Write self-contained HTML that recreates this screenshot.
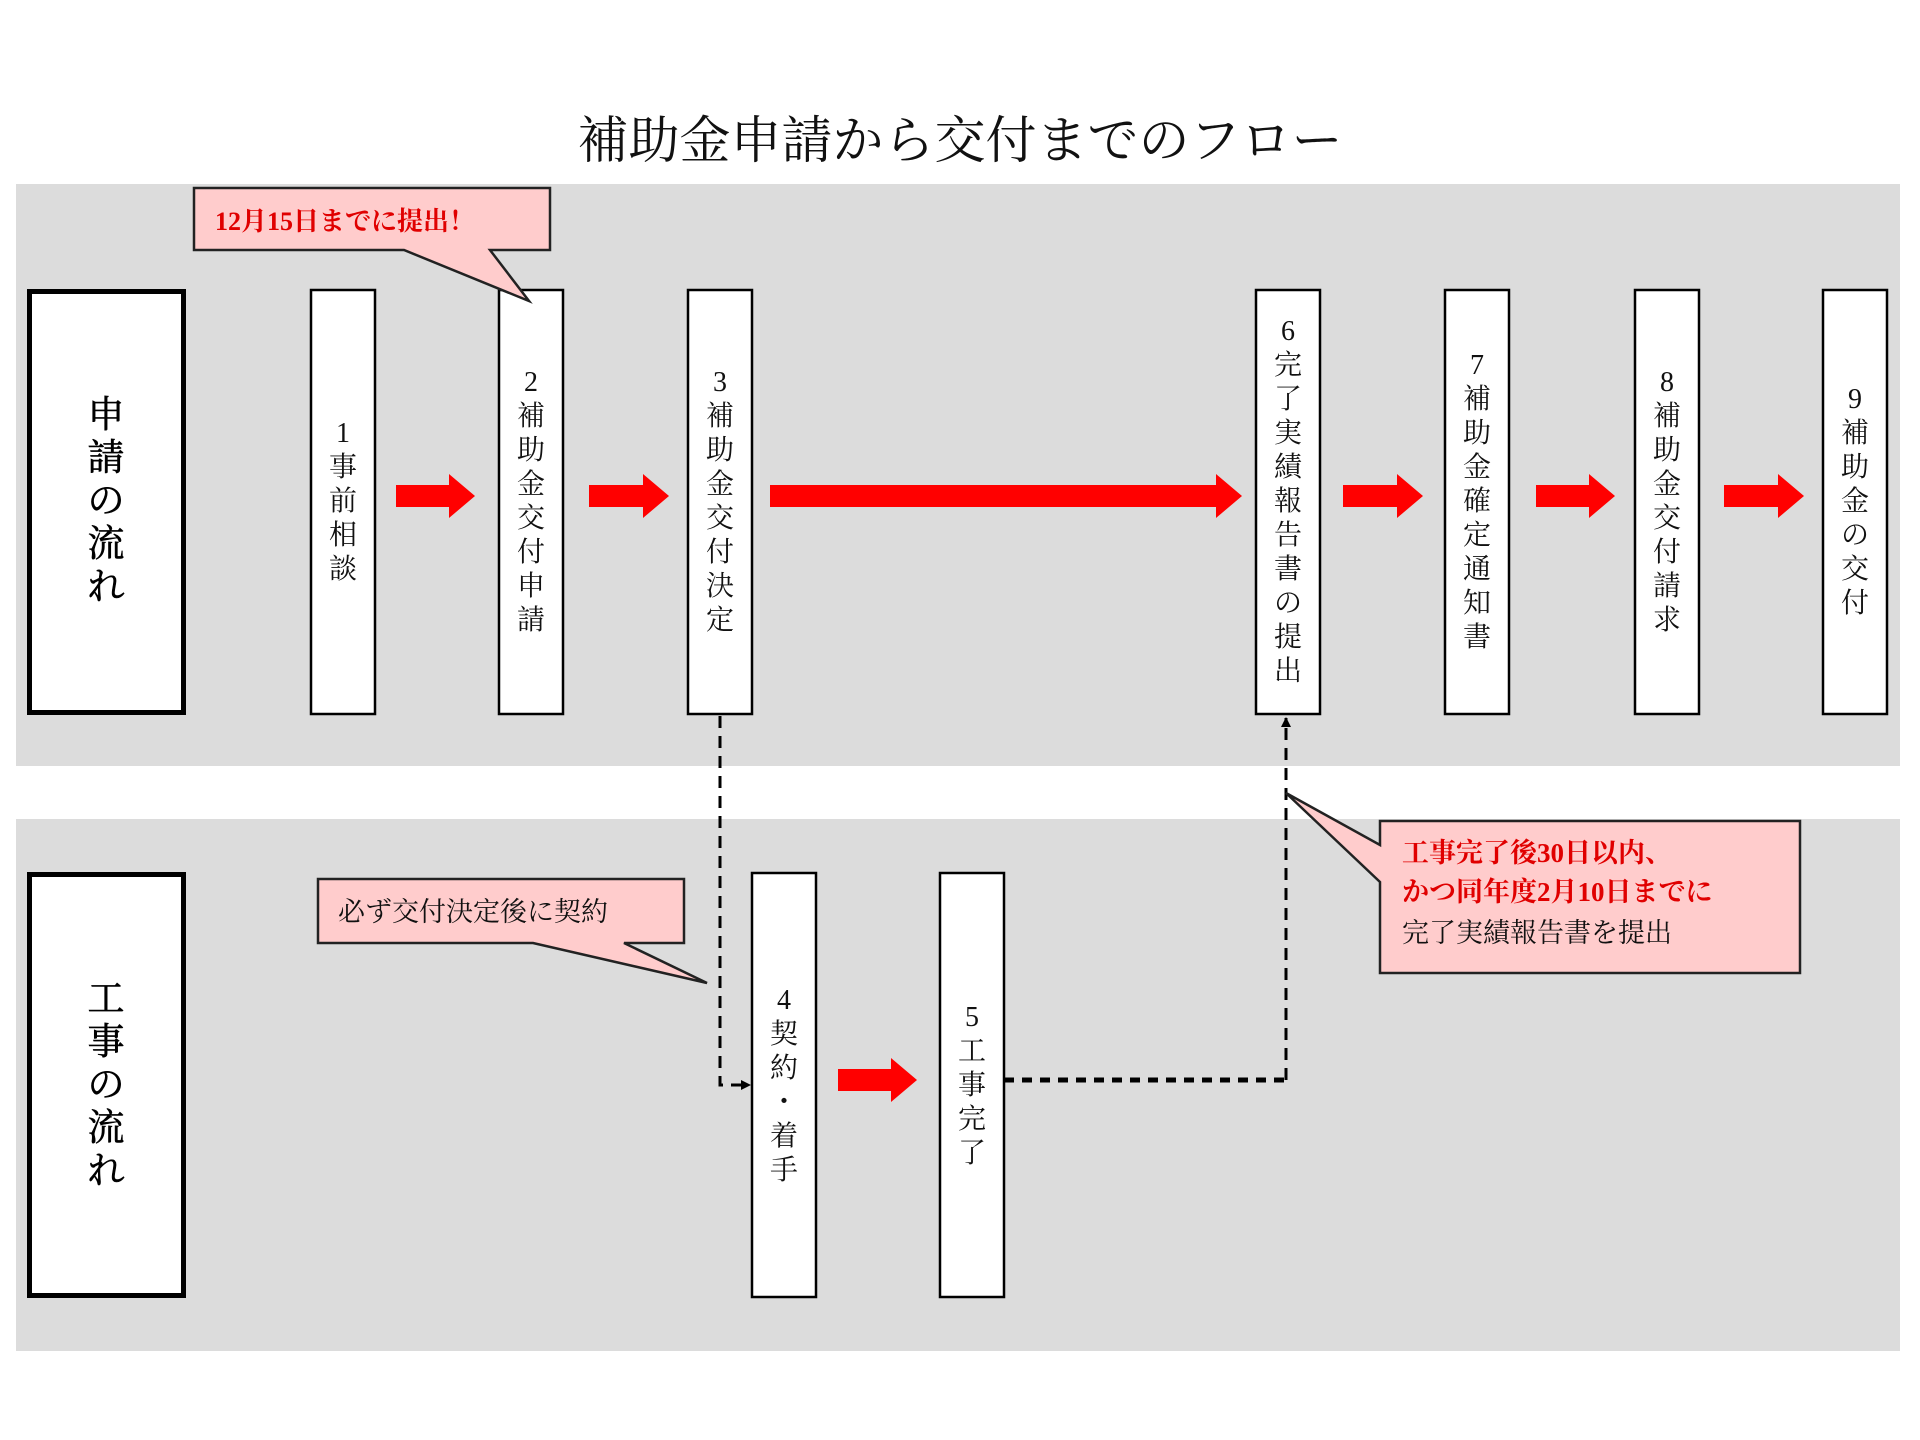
<!DOCTYPE html>
<html><head><meta charset="utf-8"><style>
html,body{margin:0;padding:0;background:#fff}
svg{display:block}
text{font-family:"Liberation Serif","Noto Serif CJK SC",serif}
</style></head><body>
<svg width="1920" height="1440" viewBox="0 0 1920 1440" xmlns="http://www.w3.org/2000/svg">
<defs>
<marker id="ah" markerWidth="10" markerHeight="10" refX="9" refY="5" orient="auto" markerUnits="userSpaceOnUse"><path d="M0,0 L10,5 L0,10 z" fill="#000"/></marker>
</defs>
<text x="960" y="158" font-size="51" text-anchor="middle" fill="#111">補助金申請から交付までのフロー</text>
<rect x="16" y="184" width="1884" height="582" fill="#dcdcdc"/>
<rect x="16" y="819" width="1884" height="532" fill="#dcdcdc"/>
<rect x="29.5" y="291.5" width="154" height="421" fill="#fff" stroke="#000" stroke-width="5"/>
<rect x="29.5" y="874.5" width="154" height="421" fill="#fff" stroke="#000" stroke-width="5"/>
<g font-size="37" text-anchor="middle" dominant-baseline="central" fill="#000" stroke="#000" stroke-width="0.6">
<text><tspan x="106" y="415">申</tspan><tspan x="106" y="458">請</tspan><tspan x="106" y="501">の</tspan><tspan x="106" y="544">流</tspan><tspan x="106" y="587">れ</tspan></text>
<text><tspan x="106" y="999">工</tspan><tspan x="106" y="1042">事</tspan><tspan x="106" y="1085">の</tspan><tspan x="106" y="1128">流</tspan><tspan x="106" y="1171">れ</tspan></text>
</g>
<g fill="#fff" stroke="#000" stroke-width="2.5">
<rect x="311" y="290" width="64" height="424"/>
<rect x="499" y="290" width="64" height="424"/>
<rect x="688" y="290" width="64" height="424"/>
<rect x="1256" y="290" width="64" height="424"/>
<rect x="1445" y="290" width="64" height="424"/>
<rect x="1635" y="290" width="64" height="424"/>
<rect x="1823" y="290" width="64" height="424"/>
<rect x="752" y="873" width="64" height="424"/>
<rect x="940" y="873" width="64" height="424"/>
</g>
<g font-size="28" text-anchor="middle" dominant-baseline="central" fill="#111">
<text><tspan x="343" y="433">1</tspan><tspan x="343" y="467">事</tspan><tspan x="343" y="501">前</tspan><tspan x="343" y="535">相</tspan><tspan x="343" y="569">談</tspan></text>
<text><tspan x="531" y="382">2</tspan><tspan x="531" y="416">補</tspan><tspan x="531" y="450">助</tspan><tspan x="531" y="484">金</tspan><tspan x="531" y="518">交</tspan><tspan x="531" y="552">付</tspan><tspan x="531" y="586">申</tspan><tspan x="531" y="620">請</tspan></text>
<text><tspan x="720" y="382">3</tspan><tspan x="720" y="416">補</tspan><tspan x="720" y="450">助</tspan><tspan x="720" y="484">金</tspan><tspan x="720" y="518">交</tspan><tspan x="720" y="552">付</tspan><tspan x="720" y="586">決</tspan><tspan x="720" y="620">定</tspan></text>
<text><tspan x="1288" y="331">6</tspan><tspan x="1288" y="365">完</tspan><tspan x="1288" y="399">了</tspan><tspan x="1288" y="433">実</tspan><tspan x="1288" y="467">績</tspan><tspan x="1288" y="501">報</tspan><tspan x="1288" y="535">告</tspan><tspan x="1288" y="569">書</tspan><tspan x="1288" y="603">の</tspan><tspan x="1288" y="637">提</tspan><tspan x="1288" y="671">出</tspan></text>
<text><tspan x="1477" y="365">7</tspan><tspan x="1477" y="399">補</tspan><tspan x="1477" y="433">助</tspan><tspan x="1477" y="467">金</tspan><tspan x="1477" y="501">確</tspan><tspan x="1477" y="535">定</tspan><tspan x="1477" y="569">通</tspan><tspan x="1477" y="603">知</tspan><tspan x="1477" y="637">書</tspan></text>
<text><tspan x="1667" y="382">8</tspan><tspan x="1667" y="416">補</tspan><tspan x="1667" y="450">助</tspan><tspan x="1667" y="484">金</tspan><tspan x="1667" y="518">交</tspan><tspan x="1667" y="552">付</tspan><tspan x="1667" y="586">請</tspan><tspan x="1667" y="620">求</tspan></text>
<text><tspan x="1855" y="399">9</tspan><tspan x="1855" y="433">補</tspan><tspan x="1855" y="467">助</tspan><tspan x="1855" y="501">金</tspan><tspan x="1855" y="535">の</tspan><tspan x="1855" y="569">交</tspan><tspan x="1855" y="603">付</tspan></text>
<text><tspan x="784" y="1000">4</tspan><tspan x="784" y="1034">契</tspan><tspan x="784" y="1068">約</tspan><tspan x="784" y="1102">・</tspan><tspan x="784" y="1136">着</tspan><tspan x="784" y="1170">手</tspan></text>
<text><tspan x="972" y="1017">5</tspan><tspan x="972" y="1051">工</tspan><tspan x="972" y="1085">事</tspan><tspan x="972" y="1119">完</tspan><tspan x="972" y="1153">了</tspan></text>
</g>
<g fill="#ff0000">
<path d="M396,485 H449 V474 L475,496 L449,518 V507 H396 Z"/>
<path d="M589,485 H643 V474 L669,496 L643,518 V507 H589 Z"/>
<path d="M770,485 H1216 V474 L1242,496 L1216,518 V507 H770 Z"/>
<path d="M1343,485 H1397 V474 L1423,496 L1397,518 V507 H1343 Z"/>
<path d="M1536,485 H1589 V474 L1615,496 L1589,518 V507 H1536 Z"/>
<path d="M1724,485 H1778 V474 L1804,496 L1778,518 V507 H1724 Z"/>
<path d="M838,1069 H891 V1058 L917,1080 L891,1102 V1091 H838 Z"/>
</g>
<g fill="none" stroke="#000">
<path d="M720,716 V1085 H750" stroke-width="3" stroke-dasharray="12 8" marker-end="url(#ah)"/>
<path d="M1004,1080 H1286" stroke-width="5" stroke-dasharray="10 8"/>
<path d="M1286,1080 V718" stroke-width="3" stroke-dasharray="12 8" marker-end="url(#ah)"/>
</g>
<g fill="#ffcccc" stroke="#222" stroke-width="2.5" stroke-linejoin="miter">
<path d="M194,188 H550 V250 H490 L529,301 L404,250 H194 Z"/>
<path d="M318,879 H684 V943 H624 L707,983 L533,943 H318 Z"/>
<path d="M1380,821 H1800 V973 H1380 V882 L1286,793 L1380,845 Z"/>
</g>
<text x="215" y="230" font-size="26" font-weight="bold" fill="#e00000">12月15日までに提出！</text>
<text x="338" y="921" font-size="27" fill="#111">必ず交付決定後に契約</text>
<text x="1402" y="862" font-size="27" font-weight="bold" fill="#e00000">工事完了後30日以内、</text>
<text x="1402" y="901" font-size="27" font-weight="bold" fill="#e00000">かつ同年度2月10日までに</text>
<text x="1402" y="942" font-size="27" fill="#111">完了実績報告書を提出</text>
</svg>
</body></html>
